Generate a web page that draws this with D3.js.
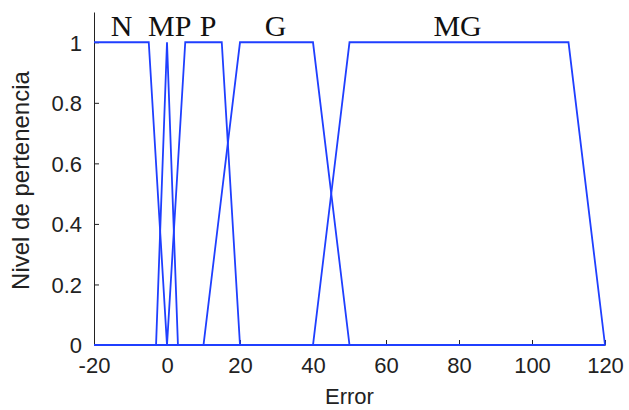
<!DOCTYPE html>
<html>
<head>
<meta charset="utf-8">
<script src="https://cdn.jsdelivr.net/npm/d3@7"></script>
<style>
  body { margin: 0; background: #fff; }
  svg { display: block; }
</style>
</head>
<body>
<div id="chart"></div>
<script>
// membership functions (x breakpoints, membership values)
const setNames = ['N', 'MP', 'P', 'G', 'MG'];
const setX = [
  [-20, -5, 0, 120],
  [-20, -3, 0, 3, 120],
  [-20, 0, 5, 15, 20, 120],
  [-20, 10, 20, 40, 50, 120],
  [-20, 40, 50, 110, 120]
];
const setY = [
  [1, 1, 0, 0],
  [0, 0, 1, 0, 0],
  [0, 0, 1, 1, 0, 0],
  [0, 0, 1, 1, 0, 0],
  [0, 0, 1, 1, 0]
];
// label positions (data coords, left edge)
const labelX = [-15.4, -5.2, 9, 26.8, 73];
const labelY = 1.02;

const xTicks = [-20, 0, 20, 40, 60, 80, 100, 120];
const yTicks = [0, 0.2, 0.4, 0.6, 0.8, 1];

const width = 629;
const height = 410;
const margin = { top: 12, right: 24, bottom: 65, left: 94 };

const svg = d3.select('#chart')
  .append('svg')
  .attr('width', width)
  .attr('height', height);

const x = d3.scaleLinear()
  .domain([-20, 120])
  .range([margin.left, width - margin.right]);

const y = d3.scaleLinear()
  .domain([0, 1.1])
  .range([height - margin.bottom, margin.top]);

const line = d3.line()
  .x(d => x(d[0]))
  .y(d => y(d[1]));

// axes, ticks pointing inward like matlab
const xAxis = svg.append('g')
  .attr('transform', `translate(0,${y(0)})`)
  .call(d3.axisBottom(x).tickValues(xTicks).tickFormat(d => String(d))
    .tickSizeInner(-5).tickSizeOuter(0).tickPadding(12));

const yAxis = svg.append('g')
  .attr('transform', `translate(${x(-20)},0)`)
  .call(d3.axisLeft(y).tickValues(yTicks).tickFormat(d => String(d))
    .tickSizeInner(-5).tickSizeOuter(0).tickPadding(12));

[xAxis, yAxis].forEach(a => {
  a.selectAll('text')
    .attr('font-family', 'Liberation Sans, Arial, sans-serif')
    .attr('font-size', '22px')
    .attr('fill', '#222');
  a.selectAll('line').attr('stroke', '#222');
  a.select('.domain').attr('stroke', '#222');
});
xAxis.selectAll('text').attr('dy', '0.71em');
yAxis.selectAll('text').attr('dy', '0.36em');

// membership curves
setNames.forEach((name, i) => {
  const pts = setX[i].map((v, j) => [v, setY[i][j]]);
  svg.append('path')
    .datum(pts)
    .attr('fill', 'none')
    .attr('stroke', '#1f3fff')
    .attr('stroke-width', 1.8)
    .attr('d', line);

  svg.append('text')
    .attr('x', x(labelX[i]))
    .attr('y', y(labelY))
    .attr('font-family', 'Liberation Serif, Times New Roman, serif')
    .attr('font-size', '30px')
    .attr('fill', '#111')
    .text(name);
});

// axis titles
svg.append('text')
  .attr('x', x(50))
  .attr('y', height - 6)
  .attr('text-anchor', 'middle')
  .attr('font-family', 'Liberation Sans, Arial, sans-serif')
  .attr('font-size', '22px')
  .attr('fill', '#222')
  .text('Error');

svg.append('text')
  .attr('transform', `translate(29,${(y(0) + y(1.1)) / 2 + 2}) rotate(-90)`)
  .attr('text-anchor', 'middle')
  .attr('font-family', 'Liberation Sans, Arial, sans-serif')
  .attr('font-size', '24px')
  .attr('fill', '#222')
  .text('Nivel de pertenencia');
</script>
</body>
</html>
